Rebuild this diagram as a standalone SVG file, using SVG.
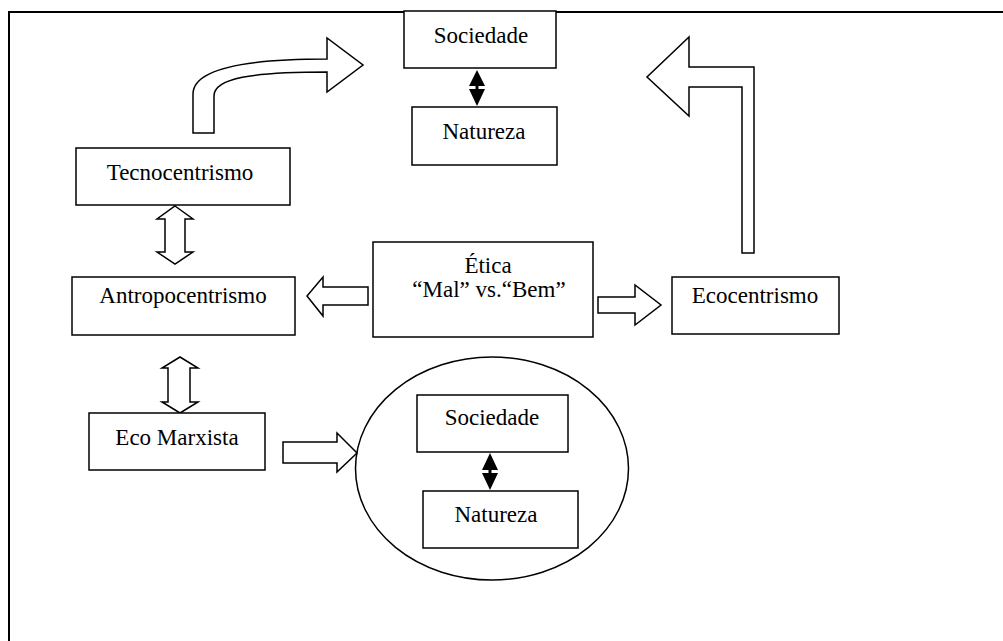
<svg xmlns="http://www.w3.org/2000/svg" width="1003" height="641" viewBox="0 0 1003 641">
<style>
.box{fill:#fff;stroke:#000;stroke-width:1.5}
.arr{fill:#fff;stroke:#000;stroke-width:1.5;stroke-linejoin:miter}
.solid{fill:#000;stroke:none}
.shaft{stroke:#000;stroke-width:3}
.t{font-family:"Liberation Serif","Times New Roman",serif;font-size:23px;fill:#000;text-anchor:middle}
.frame{fill:none;stroke:#000;stroke-width:2}
</style>
<path class="frame" d="M9,641 L9,12 L1003,12"/>
<g id="connectors">
<path class="arr" d="M193,133 L193,94 C193,70 240,59 327,59 L327,38 L363,65 L327,92 L327,72 C252,72 214,78 214,96 L214,133 Z"/>
<path class="arr" d="M754,253 L754,67 L689,67 L689,37 L647,77 L689,116 L689,87 L742,87 L742,253 Z"/>
<path class="solid" d="M477,70 L469,86 L485,86 Z M477,106 L469,89 L485,89 Z"/>
<line class="shaft" x1="477" y1="84" x2="477" y2="91"/>
<path class="arr" d="M175,206 L193,219 L185,219 L185,252 L193,252 L175,264 L157,252 L165,252 L165,219 L157,219 Z"/>
<path class="arr" d="M368,287 L323,287 L323,277 L307,296 L323,316 L323,305 L368,305 Z"/>
<path class="arr" d="M598,297 L635,297 L635,285 L661,305 L635,325 L635,313 L598,313 Z"/>
<path class="arr" d="M180,357 L198,368 L190,368 L190,402 L198,402 L180,413 L162,402 L168,402 L168,368 L162,368 Z"/>
<path class="arr" d="M283,442 L337,442 L337,433 L357,453 L337,472 L337,463 L283,463 Z"/>
<path class="solid" d="M490,453 L482,470 L498,470 Z M490,490 L482,473 L498,473 Z"/>
<line class="shaft" x1="490" y1="468" x2="490" y2="475"/>
</g>
<g id="sociedade-top"><rect class="box" x="404" y="11" width="152" height="57"/><text class="t" x="481" y="43">Sociedade</text></g>
<g id="natureza-top"><rect class="box" x="412" y="107" width="145" height="58"/><text class="t" x="484" y="139">Natureza</text></g>
<g id="tecnocentrismo"><rect class="box" x="76" y="148" width="214" height="57"/><text class="t" x="180" y="180">Tecnocentrismo</text></g>
<g id="antropocentrismo"><rect class="box" x="72" y="277" width="223" height="58"/><text class="t" x="183" y="303">Antropocentrismo</text></g>
<g id="etica"><rect class="box" x="373" y="242" width="220" height="95"/><text class="t" x="488" y="273">Ética</text><text class="t" x="489" y="297">“Mal” vs.“Bem”</text></g>
<g id="ecocentrismo"><rect class="box" x="672" y="277" width="167" height="57"/><text class="t" x="755" y="303">Ecocentrismo</text></g>
<g id="eco-marxista"><rect class="box" x="89" y="413" width="176" height="57"/><text class="t" x="177" y="445">Eco Marxista</text></g>
<g id="ellipse"><ellipse cx="492" cy="468.5" rx="136.5" ry="111.5" fill="none" stroke="#000" stroke-width="1.5"/></g>
<g id="sociedade-inner"><rect class="box" x="417" y="395" width="151" height="57"/><text class="t" x="492" y="425">Sociedade</text></g>
<g id="natureza-inner"><rect class="box" x="423" y="491" width="155" height="57"/><text class="t" x="496" y="522">Natureza</text></g>
</svg>
